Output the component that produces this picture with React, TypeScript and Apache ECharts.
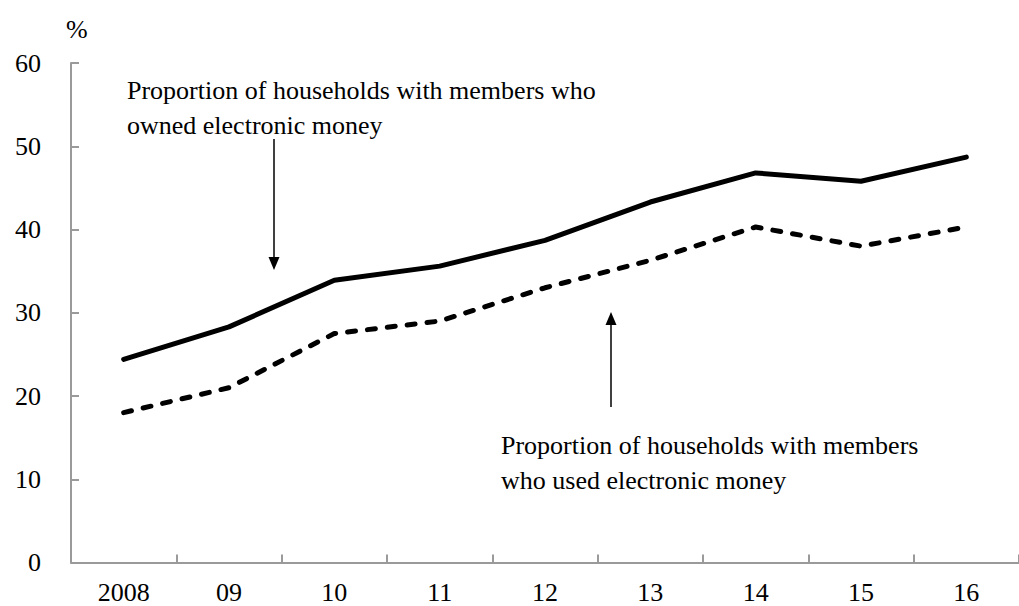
import React, { useEffect, useRef } from "react";
import * as echarts from "echarts";

const years = ["2008", "09", "10", "11", "12", "13", "14", "15", "16"];
const owned = [24.4, 28.3, 33.9, 35.6, 38.7, 43.3, 46.8, 45.8, 48.7];
const used = [18.0, 21.0, 27.5, 29.0, 33.0, 36.3, 40.3, 38.0, 40.3];
const yTicks = { min: 0, max: 60, interval: 10 };
const ownedLabel = ["Proportion of households with members who", "owned electronic money"];
const usedLabel = ["Proportion of households with members", "who used electronic money"];

const FONT = "'Liberation Serif', 'Times New Roman', serif";

export default function App() {
  const ref = useRef<HTMLDivElement>(null);
  useEffect(() => {
    if (!ref.current) return;
    const chart = echarts.init(ref.current, undefined, { renderer: "svg" });
    const axisColor = "#9a9a9a";
    chart.setOption({
      animation: false,
      backgroundColor: "#ffffff",
      grid: { left: 71, top: 63, width: 960, height: 499.5, containLabel: false },
      xAxis: {
        type: "category",
        data: years,
        boundaryGap: true,
        axisLine: { lineStyle: { color: axisColor, width: 2 } },
        axisTick: { show: true, inside: true, length: 8, lineStyle: { color: axisColor, width: 2 } },
        axisLabel: { color: "#000", fontSize: 26, fontFamily: FONT, margin: 17 },
        splitLine: { show: false },
      },
      yAxis: {
        type: "value",
        min: yTicks.min,
        max: yTicks.max,
        interval: yTicks.interval,
        axisLine: { show: true, lineStyle: { color: axisColor, width: 2 } },
        axisTick: { show: true, inside: true, length: 8, lineStyle: { color: axisColor, width: 2 } },
        axisLabel: { color: "#000", fontSize: 26, fontFamily: FONT, margin: 30 },
        splitLine: { show: false },
      },
      series: [
        {
          name: "owned",
          type: "line",
          data: owned,
          symbol: "none",
          lineStyle: { color: "#000", width: 5, cap: "round", join: "round" },
        },
        {
          name: "used",
          type: "line",
          data: used,
          symbol: "none",
          lineStyle: { color: "#000", width: 5, type: [8, 12], cap: "round", join: "round" },
        },
      ],
      graphic: [
        { type: "text", left: 66, top: 16, style: { text: "%", font: `26px ${FONT}`, fill: "#000" } },
        {
          type: "text",
          x: 127,
          y: 73,
          style: { text: ownedLabel.join("\n"), font: `26px ${FONT}`, fill: "#000", lineHeight: 35 },
        },
        {
          type: "text",
          x: 501,
          y: 428,
          style: { text: usedLabel.join("\n"), font: `26px ${FONT}`, fill: "#000", lineHeight: 35 },
        },
        { type: "line", shape: { x1: 274, y1: 139, x2: 274, y2: 260 }, style: { stroke: "#000", lineWidth: 1.5 } },
        { type: "polygon", shape: { points: [[268.5, 257], [279.5, 257], [274, 270]] }, style: { fill: "#000" } },
        { type: "line", shape: { x1: 611, y1: 407, x2: 611, y2: 322 }, style: { stroke: "#000", lineWidth: 1.5 } },
        { type: "polygon", shape: { points: [[605.5, 325], [616.5, 325], [611, 312]] }, style: { fill: "#000" } },
      ],
    });
    return () => chart.dispose();
  }, []);
  return <div ref={ref} style={{ position: "absolute", left: 0, top: 0, width: 1019, height: 606 }} />;
}
